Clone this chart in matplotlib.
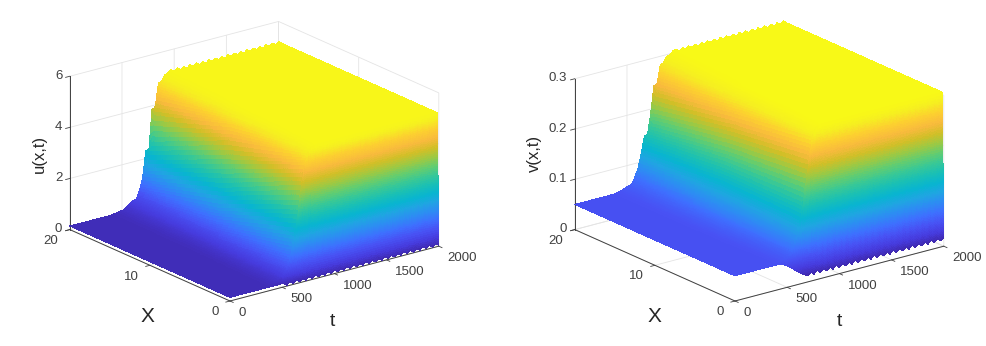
import numpy as np
import matplotlib
matplotlib.use('Agg')
import matplotlib.pyplot as plt
from matplotlib.colors import LinearSegmentedColormap
from mpl_toolkits.mplot3d import proj3d

plt.rcParams['font.family'] = ['Liberation Sans', 'DejaVu Sans']

# parula, every 5th entry of the 64 level map
parula_colors = [
    (0.2422, 0.1504, 0.6603), (0.2751, 0.2342, 0.8710), (0.2810, 0.3228, 0.9579),
    (0.2440, 0.4358, 0.9988), (0.1764, 0.5499, 0.9520), (0.1248, 0.6459, 0.8883),
    (0.0297, 0.7082, 0.8163), (0.0964, 0.7500, 0.7120), (0.2161, 0.7843, 0.5923),
    (0.3909, 0.8029, 0.4354), (0.6174, 0.7876, 0.2612), (0.8203, 0.7498, 0.1535),
    (0.9728, 0.7298, 0.2394), (0.9892, 0.8136, 0.1885), (0.9628, 0.9373, 0.1265),
    (0.9769, 0.9839, 0.0805)]
parula = LinearSegmentedColormap.from_list('parula', parula_colors)

# grid of the surfaces
t_nodes = np.linspace(0, 2000, 67)
X_nodes = [0, 0.1, 0.15, 0.2, 10, 19.6, 20]
X_subs = [30, 15, 15, 40, 40, 3]

# u(x,t), one row per X node, 67 values each
u_x0 = [0.14] * 17 + [0.14, 0.03] * 25
u_x01 = [0.14] * 12 + [0.15, 0.16, 0.18, 0.2, 0.24, 0.3, 0.4, 0.6, 0.85, 1.15, 1.6, 2.0, 2.4, 2.7] + [2.85, 2.45] * 20 + [2.85]
u_x015 = [0.14] * 12 + [0.15, 0.165, 0.19, 0.225, 0.275, 0.365, 0.5, 0.75, 1.1, 1.6, 2.25, 2.9, 3.5, 3.85] + [4.2, 3.8] * 20 + [4.2]
u_x02 = [0.14] * 12 + [0.15, 0.17, 0.2, 0.25, 0.31, 0.43, 0.6, 0.9, 1.35, 2.0, 2.85, 3.8, 4.55, 4.95, 5.12, 5.18] + [5.2] * 39
u_x10 = [0.14] * 13 + [0.15, 0.17, 0.19, 0.23, 0.29, 0.37, 0.5, 0.72, 1.05, 1.55, 2.3, 3.2, 4.1, 4.7, 5.0, 5.14, 5.18] + [5.2] * 37
u_x196 = [0.14] * 13 + [0.15, 0.16, 0.18, 0.21, 0.25, 0.3, 0.38, 0.48, 0.62, 0.85, 1.25, 1.85, 2.7, 3.7, 4.4, 4.85, 5.05, 5.13, 5.18] + [5.2] * 35
u_x20 = [0.14] * 13 + [0.15, 0.17, 0.17, 0.22, 0.22, 0.3, 0.4, 0.48, 0.5, 0.82, 1.25, 2.3, 2.32, 3.87, 3.9, 4.82, 4.85, 5.09, 5.12] + [5.22, 5.1] * 17 + [5.22]

# v(x,t)
v_x0 = [0.05] * 13 + [0.05, 0.049, 0.047, 0.045, 0.04, 0.035, 0.03, 0.025, 0.02, 0.016] + [0.012, 0.018] * 22
v_x01 = [0.05] * 14 + [0.05, 0.05, 0.05, 0.05, 0.05, 0.055, 0.062, 0.072, 0.088, 0.108, 0.13, 0.15] + [0.167, 0.15] * 20 + [0.167]
v_x015 = [0.05] * 14 + [0.05, 0.051, 0.053, 0.055, 0.058, 0.068, 0.081, 0.098, 0.124, 0.157, 0.19, 0.218] + [0.245, 0.215] * 20 + [0.245]
v_x02 = [0.05] * 14 + [0.051, 0.053, 0.056, 0.06, 0.066, 0.08, 0.1, 0.125, 0.16, 0.205, 0.25, 0.285, 0.3, 0.304] + [0.305] * 39
v_x10 = [0.05] * 13 + [0.051, 0.053, 0.056, 0.06, 0.066, 0.076, 0.09, 0.108, 0.13, 0.158, 0.19, 0.228, 0.262, 0.285, 0.296, 0.302] + [0.305] * 38
v_x196 = [0.05] * 13 + [0.051, 0.052, 0.054, 0.057, 0.06, 0.066, 0.074, 0.09, 0.115, 0.142, 0.165, 0.195, 0.235, 0.262, 0.28, 0.29, 0.297, 0.301, 0.304] + [0.305] * 35
v_x20 = [0.05] * 13 + [0.051, 0.052, 0.054, 0.057, 0.059, 0.06, 0.073, 0.09, 0.116, 0.15, 0.152, 0.192, 0.245, 0.247, 0.283, 0.285, 0.296, 0.298, 0.304] + [0.306, 0.3] * 17 + [0.306]

t_ticks = [0, 500, 1000, 1500, 2000]
X_ticks = [0, 10, 20]
u_ticks = [0, 2, 4, 6]
v_ticks = [0, 0.1, 0.2, 0.3]
v_ticklabels = ['0', '0.1', '0.2', '0.3']

GRAY = '#404040'
W, H = 986, 346


def refine_axis(a, subs, axis=0):
    # same thing as matlab shading interp, the facets are flat here so split them
    n = a.shape[axis]
    idx = np.concatenate([np.linspace(i, i + 1, subs[i], endpoint=False) for i in range(n - 1)] + [[n - 1.0]])
    return np.apply_along_axis(lambda c: np.interp(idx, np.arange(n), c), axis, a)


def fit_axes(ax, zmin, p_back, p_front, p_right):
    # move the axes box so that the floor corners land on the wanted pixels
    for _ in range(3):
        fig.canvas.draw()
        corners = []
        for pt in [(0, 20), (0, 0), (2000, 0)]:
            xp, yp, _z = proj3d.proj_transform(pt[0], pt[1], zmin, ax.get_proj())
            corners.append(ax.transData.transform((xp, yp)))
        corners = np.array(corners)
        scale = (p_right[0] - p_back[0]) / (corners[2, 0] - corners[0, 0])
        pos = ax.get_position()
        size = pos.width * W * scale
        cx = (pos.x0 + pos.width / 2) * W
        cy = (pos.y0 + pos.height / 2) * H
        # where the front corner falls after scaling about the centre
        fx = cx + (corners[1, 0] - cx) * scale
        fy = cy + (corners[1, 1] - cy) * scale
        cx += p_front[0] - fx
        cy += (H - p_front[1]) - fy
        ax.set_position([(cx - size / 2) / W, (cy - size / 2) / H, size / W, size / H])


def draw_surface(rect, rows, zlim, vmax, zticks, zticklabels, aspect, corners):
    ax = fig.add_axes(rect, projection='3d', proj_type='ortho')
    ax.patch.set_alpha(0)
    Z = np.array(rows, dtype=float)
    Zf = refine_axis(refine_axis(Z, [5] * 66, axis=1), X_subs, axis=0)
    tf = refine_axis(t_nodes[None, :], [5] * 66, axis=1)[0]
    Xf = refine_axis(np.array(X_nodes, dtype=float)[:, None], X_subs, axis=0)[:, 0]
    T, XX = np.meshgrid(tf, Xf)
    ax.plot_surface(T, XX, Zf, cmap=parula, vmin=Z.min(), vmax=vmax, rstride=1, cstride=1,
                    linewidth=0, antialiased=False, shade=False)
    ax.set_xlim(0, 2000, view_margin=0)
    ax.set_ylim(0, 20, view_margin=0)
    ax.set_zlim(zlim[0], zlim[1], view_margin=0)
    ax.set_box_aspect(aspect)
    ax.view_init(elev=20, azim=-127.5)
    ax.set_xticks(t_ticks)
    ax.set_yticks(X_ticks)
    ax.set_zticks(zticks)
    ax.set_zticklabels(zticklabels)
    for axis in [ax.xaxis, ax.yaxis, ax.zaxis]:
        axis.pane.set_facecolor((1, 1, 1, 0))
        axis.pane.set_edgecolor((1, 1, 1, 0))
        axis.line.set_color(GRAY)
        axis.line.set_linewidth(0.7)
        axis._axinfo['grid']['color'] = '#e4e4e4'
        axis._axinfo['grid']['linewidth'] = 0.6
        axis._axinfo['tick']['inward_factor'] = 0.25
        axis._axinfo['tick']['outward_factor'] = 0.0
        axis._axinfo['tick']['linewidth'] = {True: 0.6, False: 0.6}
        axis._axinfo['tick']['color'] = GRAY
        axis.set_tick_params(labelsize=9.5, labelcolor=GRAY, colors=GRAY, pad=0)
    ax.zaxis.set_tick_params(pad=-5)
    for lbl in ax.get_xticklabels():
        lbl.set_ha('left')
        lbl.set_va('center')
    for lbl in ax.get_yticklabels():
        lbl.set_ha('right')
        lbl.set_va('center')
    for lbl in ax.get_zticklabels():
        lbl.set_ha('right')
        lbl.set_va('center')
    fit_axes(ax, zlim[0], *corners)
    return ax


fig = plt.figure(figsize=(W / 100, H / 100), dpi=100)

draw_surface([0.02, 0.0, 0.4, 1.0], [u_x0, u_x01, u_x015, u_x02, u_x10, u_x196, u_x20], (0, 6), 5.35, u_ticks, u_ticks,
             (1, 1, 0.62), [(68, 229), (230, 301), (437, 247)])
draw_surface([0.52, 0.0, 0.4, 1.0], [v_x0, v_x01, v_x015, v_x02, v_x10, v_x196, v_x20], (0, 0.3), 0.309, v_ticks, v_ticklabels,
             (1, 1, 0.61), [(574, 229), (735, 301), (943, 247)])

# axis labels
fig.text(39 / W, 1 - 154 / H, 'u(x,t)', rotation=90, fontsize=12, color='#262626', ha='center', va='center')
fig.text(147 / W, 1 - 317 / H, 'X', fontsize=15, color='#262626', ha='center', va='center')
fig.text(332 / W, 1 - 322 / H, 't', fontsize=14, color='#262626', ha='center', va='center')
fig.text(534 / W, 1 - 153 / H, 'v(x,t)', rotation=90, fontsize=12, color='#262626', ha='center', va='center')
fig.text(654 / W, 1 - 317 / H, 'X', fontsize=15, color='#262626', ha='center', va='center')
fig.text(839 / W, 1 - 322 / H, 't', fontsize=14, color='#262626', ha='center', va='center')

fig.savefig('out.png', dpi=100)
